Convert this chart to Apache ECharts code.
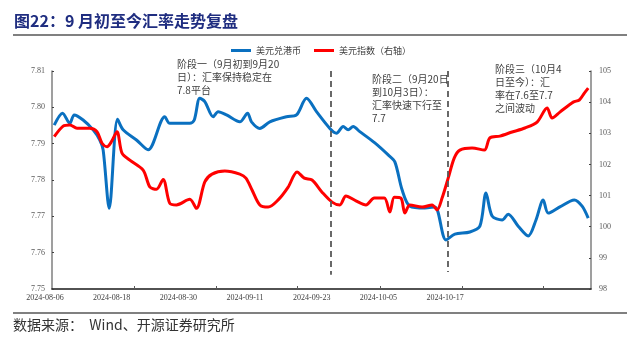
<!DOCTYPE html>
<html>
<head>
<meta charset="utf-8">
<script src="https://cdn.jsdelivr.net/npm/echarts@6.0.0/dist/echarts.min.js"></script>
<style>
  html, body { margin: 0; padding: 0; background: #fff; }
  #chart { width: 640px; height: 351px; }
</style>
</head>
<body>
<div id="chart"></div>
<script>
// 横轴：距 2024-08-06 的天数
const xLabels = ['2024-08-06', '2024-08-18', '2024-08-30', '2024-09-11', '2024-09-23', '2024-10-05', '2024-10-17'];
const labelDays = [0, 12, 24, 36, 48, 60, 72];
const tickDays = [14.8, 29.5, 44.1, 59.0, 73.8, 88.4];
const xMax = 97;

// 美元兑港币（左轴）
const hkdDays = [0.4, 1.9, 3.2, 4.0, 5.6, 7.4, 8.6, 9.2, 10.3, 11.8, 12.8, 15.2, 17.3, 20.3, 21.2, 24.8, 25.6, 26.6, 27.5, 29.0,
  29.9, 31.4, 33.8, 35.2, 35.9, 37.4, 39.2, 42.2, 44.0, 45.8, 47.6, 50.0, 51.2, 52.4, 53.3, 54.2, 55.4, 58.1, 60.5, 61.7,
  63.0, 64.4, 67.1, 68.9, 70.9, 72.5, 75.2, 77.0, 78.1, 79.2, 81.0, 82.1, 83.9, 85.7, 87.1, 88.4, 89.3, 91.4, 94.0, 95.4, 96.5];
const hkdVals = [7.7951, 7.7984, 7.7956, 7.7979, 7.7965, 7.7938, 7.7910, 7.7883, 7.7722, 7.7967, 7.7938, 7.7910, 7.7883, 7.7974, 7.7956, 7.7956, 7.7965, 7.8025, 7.8016, 7.7974,
  7.7988, 7.7979, 7.7960, 7.7984, 7.7960, 7.7942, 7.7960, 7.7974, 7.7979, 7.8025, 7.7988, 7.7942, 7.7929, 7.7947, 7.7938, 7.7947, 7.7933, 7.7902, 7.7869, 7.7850,
  7.7773, 7.7728, 7.7723, 7.7726, 7.7635, 7.7651, 7.7657, 7.7673, 7.7764, 7.7701, 7.7690, 7.7706, 7.7673, 7.7646, 7.7690, 7.7745, 7.7709, 7.7726, 7.7745, 7.7728, 7.7695];

// 美元指数（右轴）
const dxyDays = [0.4, 2.0, 3.2, 4.5, 6.8, 8.1, 9.0, 9.9, 10.7, 11.7, 12.6, 14.0, 16.4, 17.6, 18.8, 20.0, 21.2, 22.4, 24.8, 26.0,
  27.5, 28.8, 31.1, 33.8, 34.9, 36.0, 37.4, 38.9, 40.7, 42.5, 44.1, 45.4, 46.8, 48.6, 50.4, 51.8, 52.9, 54.7, 56.5, 58.0,
  59.8, 60.8, 61.6, 62.8, 63.5, 64.4, 66.6, 68.4, 69.3, 70.2, 71.3, 72.4, 73.4, 75.6, 77.8, 78.8, 80.6, 82.8, 85.1, 87.3,
  89.1, 90.0, 91.4, 93.8, 94.9, 95.8, 96.5];
const dxyVals = [102.89, 103.23, 103.27, 103.16, 103.16, 103.05, 102.68, 102.57, 102.73, 103.05, 102.36, 102.14, 101.82, 101.28, 101.20, 101.52, 100.75, 100.70, 100.88, 100.59,
  101.44, 101.69, 101.79, 101.69, 101.56, 101.18, 100.70, 100.63, 100.86, 101.27, 101.76, 101.56, 101.50, 101.11, 100.79, 100.70, 100.99, 100.83, 100.70, 100.92,
  100.92, 100.47, 100.95, 100.92, 100.44, 100.70, 100.63, 100.70, 100.54, 100.92, 101.56, 102.21, 102.46, 102.53, 102.46, 102.85, 102.91, 103.04, 103.17, 103.36,
  103.81, 103.49, 103.68, 104.00, 104.07, 104.29, 104.45];

// 阶段分界（9/20、10/4）
const phaseDays = [50.2, 71.3];

const serif = '"Liberation Serif", "DejaVu Serif", serif';
const cjk = '"Noto Sans CJK SC", sans-serif';

const zip = (xs, ys) => xs.map((x, i) => [x, ys[i]]);

let myChart = echarts.init(document.getElementById('chart'));
let option = {
  backgroundColor: '#fff',
  animation: false,
  grid: { left: 52, right: 49, top: 71, bottom: 62 },
  legend: {
    data: ['美元兑港币', '美元指数（右轴）'],
    left: 231,
    top: 46,
    padding: 0,
    icon: 'rect',
    itemWidth: 20,
    itemHeight: 3,
    itemGap: 13,
    textStyle: { fontFamily: cjk, fontSize: 9, color: '#404040' }
  },
  xAxis: {
    type: 'value',
    min: 0,
    max: xMax,
    splitLine: { show: false },
    axisLine: { lineStyle: { color: '#1a1a1a', width: 1.5 } },
    axisTick: { inside: true, length: 3, customValues: tickDays, lineStyle: { color: '#595959' } },
    axisLabel: {
      customValues: labelDays,
      formatter: v => xLabels[labelDays.indexOf(v)],
      fontFamily: serif, fontSize: 8, color: '#404040', margin: 5,
      padding: [0, 14, 0, 0]
    }
  },
  yAxis: [
    {
      type: 'value', min: 7.75, max: 7.81, interval: 0.01,
      splitLine: { show: false },
      axisLine: { show: true, lineStyle: { color: '#7f7f7f', width: 1.5 } },
      axisTick: { show: true, inside: true, length: 2, lineStyle: { color: '#404040' } },
      axisLabel: { formatter: v => v.toFixed(2), fontFamily: serif, fontSize: 8, color: '#595959', margin: 7 }
    },
    {
      type: 'value', min: 98, max: 105, interval: 1,
      splitLine: { show: false },
      axisLine: { show: true, lineStyle: { color: '#7f7f7f', width: 1.5 } },
      axisTick: { show: true, inside: true, length: 2, lineStyle: { color: '#404040' } },
      axisLabel: { fontFamily: serif, fontSize: 8, color: '#595959', margin: 8 }
    }
  ],
  series: [
    {
      name: '美元兑港币',
      type: 'line',
      yAxisIndex: 0,
      data: zip(hkdDays, hkdVals),
      smooth: 0.3,
      showSymbol: false,
      lineStyle: { color: '#0a70c0', width: 3 },
      itemStyle: { color: '#0a70c0' },
      markLine: {
        silent: true,
        symbol: 'none',
        label: { show: false },
        lineStyle: { color: '#595959', width: 1.8, type: [6, 4] },
        data: [
          [{ coord: [phaseDays[0], 7.81] }, { coord: [phaseDays[0], 7.7539] }],
          [{ coord: [phaseDays[1], 7.81] }, { coord: [phaseDays[1], 7.7547] }]
        ]
      }
    },
    {
      name: '美元指数（右轴）',
      type: 'line',
      yAxisIndex: 1,
      data: zip(dxyDays, dxyVals),
      smooth: 0.3,
      showSymbol: false,
      lineStyle: { color: '#ff0000', width: 3 },
      itemStyle: { color: '#ff0000' }
    }
  ],
  graphic: [
    { type: 'text', left: 14, top: 13, style: { text: '图22：9 月初至今汇率走势复盘', fontFamily: cjk, fontSize: 16, fontWeight: 'bold', fill: '#1f2d80' } },
    { type: 'line', shape: { x1: 13, y1: 35, x2: 627, y2: 35 }, style: { stroke: '#808080', lineWidth: 2 } },
    { type: 'line', shape: { x1: 13, y1: 313, x2: 627, y2: 313 }, style: { stroke: '#808080', lineWidth: 2 } },
    { type: 'text', left: 13, top: 318, style: { text: '数据来源：  Wind、开源证券研究所', fontFamily: cjk, fontSize: 14, fill: '#333' } },
    { type: 'text', left: 177, top: 58, style: { text: '阶段一（9月初到9月20\n日）：汇率保持稳定在\n7.8平台', fontFamily: cjk, fontSize: 10, lineHeight: 13, fill: '#404040' } },
    { type: 'text', left: 372, top: 73, style: { text: '阶段二（9月20日\n到10月3日）：\n汇率快速下行至\n7.7', fontFamily: cjk, fontSize: 10, lineHeight: 13, fill: '#404040' } },
    { type: 'text', left: 495, top: 63, style: { text: '阶段三（10月4\n日至今）：汇\n率在7.6至7.7\n之间波动', fontFamily: cjk, fontSize: 10, lineHeight: 13, fill: '#404040' } }
  ]
};
myChart.setOption(option);
</script>
</body>
</html>
